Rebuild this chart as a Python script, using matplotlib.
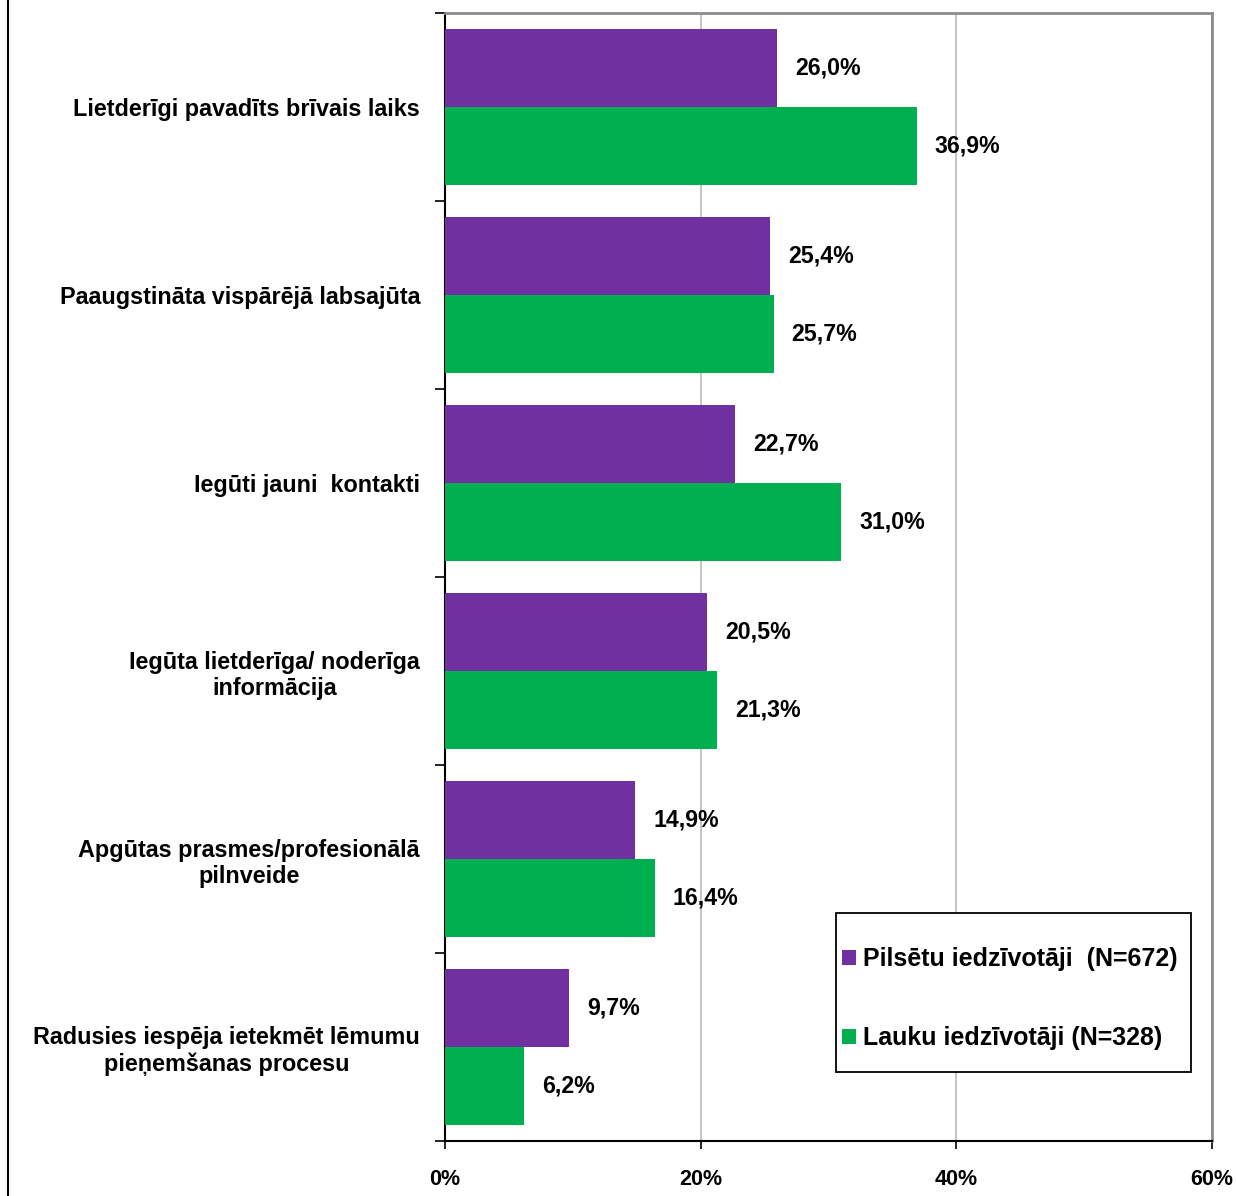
import matplotlib
matplotlib.use('Agg')
import matplotlib.pyplot as plt
from matplotlib.patches import Patch, Rectangle
from matplotlib.lines import Line2D
import numpy as np

categories = [
    'Lietderīgi pavadīts brīvais laiks',
    'Paaugstināta vispārējā labsajūta',
    'Iegūti jauni  kontakti',
    'Iegūta lietderīga/ noderīga\ninformācija',
    'Apgūtas prasmes/profesionālā\npilnveide',
    'Radusies iespēja ietekmēt lēmumu\npieņemšanas procesu',
]
city_vals = [26.0, 25.4, 22.7, 20.5, 14.9, 9.7]
rural_vals = [36.9, 25.7, 31.0, 21.3, 16.4, 6.2]
series_names = ['Pilsētu iedzīvotāji  (N=672)', 'Lauku iedzīvotāji (N=328)']
colors = ['#7030A0', '#00B050']
xticks = [0, 20, 40, 60]

plt.rcParams['font.family'] = ['Liberation Sans', 'DejaVu Sans']
plt.rcParams['font.weight'] = 'bold'

W, H = 1237, 1196
fig = plt.figure(figsize=(W / 100, H / 100), dpi=100)
ax = fig.add_axes([445 / W, 1 - 1141 / H, (1212 - 445) / W, (1141 - 13) / H])

y = np.arange(len(categories))
h = 0.415
ax.barh(y - h / 2, city_vals, height=h, color=colors[0], zorder=3)
ax.barh(y + h / 2, rural_vals, height=h, color=colors[1], zorder=3)

for i, (a, b) in enumerate(zip(city_vals, rural_vals)):
    for v, yy in ((a, i - h / 2), (b, i + h / 2)):
        ax.annotate(f'{v:.1f}%'.replace('.', ','), (v, yy), xytext=(13, 0),
                    textcoords='offset points', ha='left', va='center',
                    fontsize=16.7, fontweight='bold')

ax.set_xlim(0, 60)
ax.set_ylim(len(categories) - 0.5, -0.5)

ax.set_xticks(xticks)
ax.set_xticklabels([f'{t}%' for t in xticks], fontsize=15.5, fontweight='bold')
ax.tick_params(axis='x', direction='out', length=6, width=1.2, pad=14)

ax.set_yticks(y)
ax.set_yticklabels(categories, fontsize=16.8, fontweight='bold', multialignment='center')
ax.tick_params(axis='y', which='major', length=0, pad=18)
ax.set_yticks(np.arange(-0.5, len(categories), 1), minor=True)
ax.tick_params(axis='y', which='minor', direction='out', length=7, width=1.2)

ax.grid(axis='x', color='#BFBFBF', linewidth=1.3, zorder=0)
for side in ('left', 'bottom'):
    ax.spines[side].set_color('black')
    ax.spines[side].set_linewidth(1.5)
for side in ('top', 'right'):
    ax.spines[side].set_color('#8C8C8C')
    ax.spines[side].set_linewidth(2)

# legend box drawn separately so the padding matches the original
fig.add_artist(Rectangle((836 / W, 1 - 1072 / H), (1191 - 836) / W, (1072 - 913) / H,
                         transform=fig.transFigure, facecolor='white', edgecolor='black',
                         linewidth=1.3, zorder=4))
handles = [Patch(facecolor=c, edgecolor='none') for c in colors]
leg = fig.legend(handles, series_names, loc='upper left',
                 bbox_to_anchor=(842 / W, 1 - 947 / H),
                 borderaxespad=0, borderpad=0, frameon=False,
                 prop={'weight': 'bold', 'size': 18},
                 handlelength=0.55, handleheight=0.55, handletextpad=0.3,
                 labelspacing=2.2)
leg.set_zorder(5)

fig.add_artist(Line2D([8 / W, 8 / W], [0, 1], color='black', linewidth=1.5,
                      transform=fig.transFigure))

fig.savefig('out.png', dpi=100)
